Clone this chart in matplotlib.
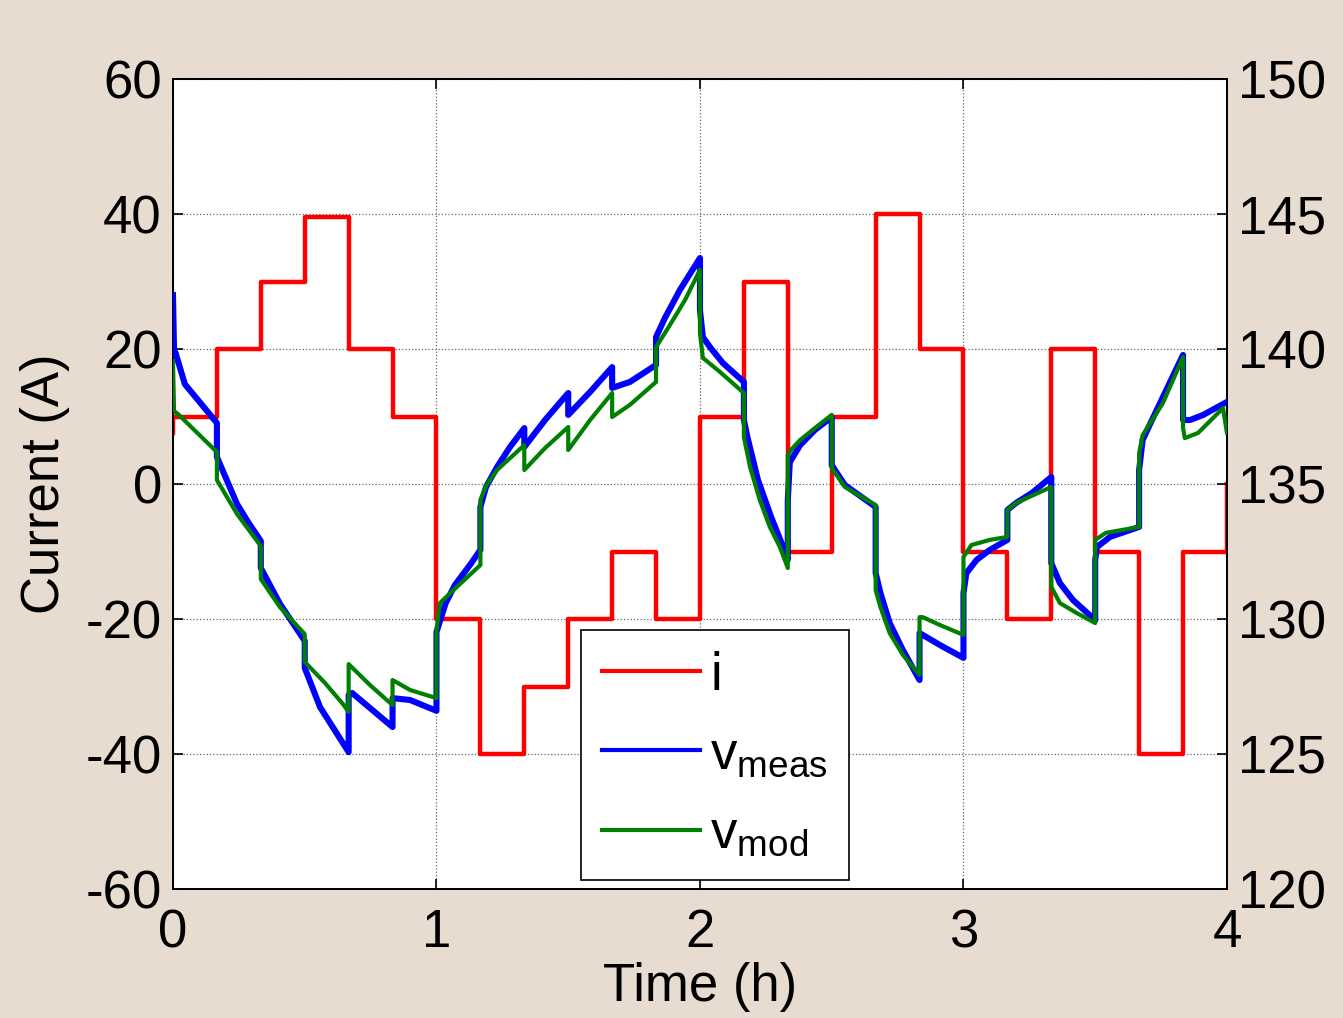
import matplotlib
matplotlib.use('Agg')
import matplotlib.pyplot as plt

plt.rcParams['font.family'] = ['Liberation Sans', 'DejaVu Sans']
plt.rcParams['mathtext.default'] = 'regular'
plt.rcParams['axes.unicode_minus'] = False

BG = '#E8DCD1'

# current steps (A), each step lasts 10 min
step_t = [0, 1/6, 2/6, 3/6, 4/6, 5/6, 1, 7/6, 8/6, 9/6, 10/6, 11/6,
          2, 13/6, 14/6, 15/6, 16/6, 17/6, 3, 19/6, 20/6, 21/6, 22/6, 23/6, 4]
step_i = [10, 20, 30, 39.5, 20, 10, -20, -40, -30, -20, -10, -20,
          10, 30, -10, 10, 40, 20, -10, -20, 20, -10, -40, -10, 0]

# measured voltage (V)
t_meas = [0.0, 0.004, 0.010, 0.045, 0.1667,
          0.1667, 0.243, 0.285, 0.3333,
          0.3333, 0.406, 0.5,
          0.5, 0.558, 0.6667,
          0.6667, 0.68, 0.8333,
          0.8333, 0.9, 1.0,
          1.0, 1.035, 1.07, 1.127, 1.1667,
          1.1667, 1.188, 1.23, 1.279, 1.3333,
          1.3333, 1.412, 1.5,
          1.5, 1.583, 1.6667,
          1.6667, 1.734, 1.8333,
          1.8333, 1.867, 1.924, 2.0,
          2.0, 2.011, 2.038, 2.087, 2.1667,
          2.1667, 2.18, 2.22, 2.27, 2.32, 2.3333,
          2.3333, 2.341, 2.38, 2.436, 2.5,
          2.5, 2.55, 2.6667,
          2.6667, 2.685, 2.72, 2.77, 2.8333,
          2.8333, 2.91, 3.0,
          3.0, 3.011, 3.05, 3.1, 3.1667,
          3.1667, 3.2, 3.26, 3.3333,
          3.3333, 3.366, 3.416, 3.5,
          3.5, 3.507, 3.556, 3.6667,
          3.6667, 3.68, 3.71, 3.757, 3.8333,
          3.8333, 3.86, 3.91, 4.0]
v_meas = [142.00, 139.96, 139.85, 138.70, 137.26,
          136.00, 134.26, 133.59, 132.89,
          131.89, 130.56, 129.19,
          128.19, 126.74, 125.07,
          127.19, 127.26, 126.00,
          127.07, 127.00, 126.60,
          129.52, 130.59, 131.26, 132.00, 132.56,
          134.15, 134.89, 135.63, 136.37, 137.07,
          136.37, 137.37, 138.37,
          137.56, 138.41, 139.33,
          138.56, 138.78, 139.41,
          140.44, 141.15, 142.19, 143.37,
          141.44, 140.44, 140.07, 139.48, 138.78,
          137.37, 136.74, 135.15, 133.78, 132.56, 132.19,
          134.41, 135.81, 136.44, 137.00, 137.48,
          135.70, 134.96, 134.15,
          131.70, 130.96, 129.85, 128.85, 127.74,
          129.48, 129.04, 128.56,
          130.96, 131.70, 132.19, 132.56, 132.93,
          134.04, 134.30, 134.67, 135.26,
          132.07, 131.33, 130.70, 129.96,
          132.19, 132.67, 133.04, 133.41,
          135.52, 136.63, 137.26, 138.22, 139.78,
          137.37, 137.37, 137.56, 138.04]

# model voltage (V)
t_mod = [0.0, 0.004, 0.019, 0.1587, 0.1667,
         0.1667, 0.243, 0.3333,
         0.3333, 0.406, 0.5,
         0.5, 0.577, 0.645, 0.6667,
         0.6667, 0.747, 0.8333,
         0.8333, 0.9, 1.0,
         1.0, 1.013, 1.085, 1.1667,
         1.1667, 1.188, 1.23, 1.3333,
         1.3333, 1.412, 1.5,
         1.5, 1.583, 1.6667,
         1.6667, 1.734, 1.8333,
         1.8333, 1.886, 1.943, 2.0,
         2.0, 2.011, 2.076, 2.1667,
         2.1667, 2.19, 2.227, 2.265, 2.303, 2.3333,
         2.3333, 2.345, 2.38, 2.436, 2.5,
         2.5, 2.55, 2.6667,
         2.6667, 2.685, 2.72, 2.77, 2.8333,
         2.8333, 2.845, 2.91, 3.0,
         3.0, 3.03, 3.1, 3.1667,
         3.1667, 3.2, 3.3333,
         3.3333, 3.366, 3.43, 3.5,
         3.5, 3.54, 3.6667,
         3.6667, 3.68, 3.757, 3.8333,
         3.8333, 3.84, 3.89, 3.985, 4.0]
v_mod = [139.56, 137.70, 137.59, 136.26, 136.20,
         135.15, 133.89, 132.70,
         131.48, 130.44, 129.44,
         128.41, 127.63, 126.85, 126.56,
         128.33, 127.56, 126.81,
         127.74, 127.37, 127.07,
         129.59, 130.59, 131.26, 132.00,
         134.41, 134.93, 135.52, 136.44,
         135.52, 136.33, 137.11,
         136.26, 137.37, 138.37,
         137.48, 137.93, 138.78,
         140.07, 140.89, 141.81, 142.93,
         140.59, 139.67, 139.15, 138.37,
         136.74, 135.63, 134.41, 133.41, 132.67, 131.89,
         136.07, 136.26, 136.63, 137.07, 137.56,
         135.59, 134.89, 134.22,
         131.07, 130.44, 129.48, 128.67, 127.93,
         130.07, 130.07, 129.78, 129.41,
         132.30, 132.74, 132.93, 133.04,
         134.04, 134.30, 134.89,
         131.19, 130.59, 130.22, 129.85,
         132.93, 133.19, 133.41,
         136.15, 136.81, 138.00, 139.70,
         137.07, 136.70, 136.89, 137.81, 136.89]

fig = plt.figure(figsize=(13.43, 10.18), dpi=100, facecolor=BG)
ax = fig.add_axes([0.1288, 0.1267, 0.7848, 0.7957])
ax2 = ax.twinx()

l_i, = ax.plot([0] + step_t, [7.6] + step_i, drawstyle='steps-post',
               color='#FF0000', lw=3.2, zorder=3)
l_m, = ax2.plot(t_meas, v_meas, color='#0000FF', lw=4.4, zorder=3)
l_v, = ax2.plot(t_mod, v_mod, color='#008000', lw=3, zorder=4)

ax.set_xlim(0, 4)
ax.set_ylim(-60, 60)
ax2.set_ylim(120, 150)
ax.set_xticks([0, 1, 2, 3, 4])
ax.set_yticks([-60, -40, -20, 0, 20, 40, 60])
ax2.set_yticks([120, 125, 130, 135, 140, 145, 150])

ax.grid(True, color='#666666', ls=':', lw=0.9)
ax.tick_params(axis='both', direction='in', length=7, width=1.2,
               labelsize=38, top=True, right=False)
ax.tick_params(axis='x', pad=14)
ax.tick_params(axis='y', pad=8)
ax2.tick_params(axis='y', direction='in', length=7, width=1.2,
                labelsize=38, pad=8)
for a in (ax, ax2):
    for s in a.spines.values():
        s.set_linewidth(1.3)

ax.set_xlabel('Time (h)', fontsize=38)
ax.set_ylabel('Current (A)', fontsize=38)
ax.xaxis.set_label_coords(0.5, -0.09)
ax.yaxis.set_label_coords(-0.098, 0.5)

leg = ax2.legend([l_i, l_m, l_v], ['i', '$v_{meas}$', '$v_{mod}$'],
                 loc='lower left', bbox_to_anchor=(0.387, 0.011),
                 borderaxespad=0, fontsize=38, handlelength=1.85,
                 handletextpad=0.2, labelspacing=0.55, borderpad=0.4,
                 fancybox=False, framealpha=1, edgecolor='black')
leg.get_frame().set_linewidth(1.2)
for h in leg.get_lines():
    h.set_linewidth(3)

fig.savefig('out.png', dpi=100, facecolor=BG)
